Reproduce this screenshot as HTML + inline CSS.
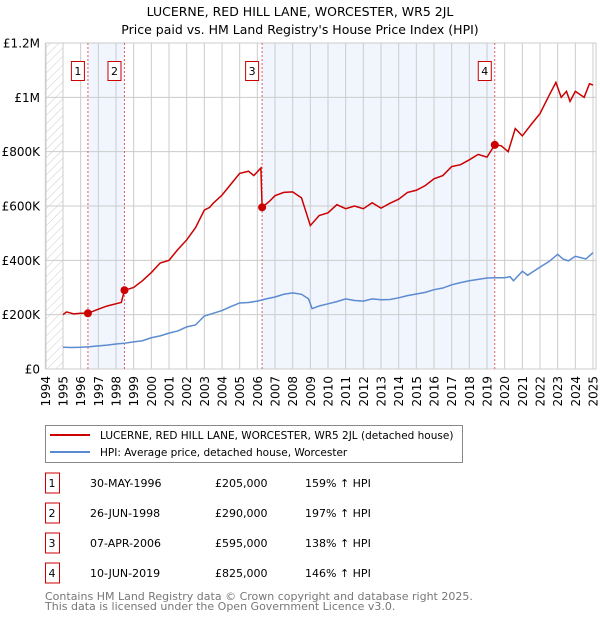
<!DOCTYPE html>
<html><head><meta charset="utf-8"><style>
body{margin:0;background:#fff;width:600px;height:620px;overflow:hidden;font-family:"DejaVu Sans","Liberation Sans",sans-serif}
svg{position:absolute;left:0;top:0}
</style></head><body>
<svg id="chart" width="600" height="620" xmlns="http://www.w3.org/2000/svg" font-family="DejaVu Sans, Liberation Sans, sans-serif">
<defs><pattern id="hatch" width="6" height="6" patternUnits="userSpaceOnUse" patternTransform="rotate(45)"><line x1="0" y1="0" x2="0" y2="6" stroke="#ccc" stroke-width="1"/></pattern></defs>
<text x="300" y="16" text-anchor="middle" font-size="12.5">LUCERNE, RED HILL LANE, WORCESTER, WR5 2JL</text>
<text x="300" y="34" text-anchor="middle" font-size="12.5">Price paid vs. HM Land Registry's House Price Index (HPI)</text>
<g id="plot"></g>
<g>
<rect x="45.5" y="425.5" width="417" height="37" fill="#fff" stroke="#888"/>
<line x1="50" y1="435" x2="90" y2="435" stroke="#cc0000" stroke-width="2"/>
<text x="100" y="439" font-size="10.5">LUCERNE, RED HILL LANE, WORCESTER, WR5 2JL (detached house)</text>
<line x1="50" y1="452" x2="90" y2="452" stroke="#5b8bd0" stroke-width="2"/>
<text x="100" y="456" font-size="10.5">HPI: Average price, detached house, Worcester</text>
</g>
<g id="table" font-size="11"></g>
<text x="45" y="600" font-size="11" fill="#777">Contains HM Land Registry data © Crown copyright and database right 2025.</text>
<text x="45" y="610" font-size="11" fill="#777">This data is licensed under the Open Government Licence v3.0.</text>
</svg>
<script>
const yearTicks=[1994,1995,1996,1997,1998,1999,2000,2001,2002,2003,2004,2005,2006,2007,2008,2009,2010,2011,2012,2013,2014,2015,2016,2017,2018,2019,2020,2021,2022,2023,2024,2025];
const yTickValues=[0,200000,400000,600000,800000,1000000,1200000];
const yTickLabels=["£0","£200K","£400K","£600K","£800K","£1M","£1.2M"];
const hpiYears=[1995,1995.5,1996,1996.5,1997,1997.5,1998,1998.5,1999,1999.5,2000,2000.5,2001,2001.5,2002,2002.5,2003,2003.5,2004,2004.5,2005,2005.5,2006,2006.5,2007,2007.5,2008,2008.5,2008.9,2009.1,2009.5,2010,2010.5,2011,2011.5,2012,2012.5,2013,2013.5,2014,2014.5,2015,2015.5,2016,2016.5,2017,2017.5,2018,2018.5,2019,2019.5,2020,2020.3,2020.5,2021,2021.3,2021.6,2022,2022.5,2023,2023.3,2023.6,2024,2024.3,2024.6,2025];
const hpiValues=[80000,79000,80000,82000,85000,88000,92000,95000,100000,104000,115000,122000,132000,140000,155000,162000,195000,205000,215000,230000,243000,245000,250000,258000,265000,275000,280000,275000,258000,222000,232000,240000,248000,258000,252000,250000,258000,255000,256000,262000,270000,276000,282000,292000,298000,310000,318000,325000,330000,335000,336000,336000,340000,325000,360000,345000,358000,375000,395000,422000,405000,398000,415000,410000,405000,428000];
const redYears=[1995,1995.2,1995.6,1996,1996.41,1997,1997.5,1998.3,1998.48,1999,1999.5,2000,2000.5,2001,2001.5,2002,2002.5,2003,2003.3,2003.5,2004,2004.5,2005,2005.5,2005.8,2006.2,2006.27,2006.7,2007,2007.5,2008,2008.5,2009,2009.5,2010,2010.5,2011,2011.5,2012,2012.5,2013,2013.5,2014,2014.5,2015,2015.5,2016,2016.5,2017,2017.5,2018,2018.5,2019,2019.44,2019.8,2020.2,2020.6,2021,2021.5,2022,2022.5,2022.9,2023.2,2023.5,2023.7,2024,2024.5,2024.8,2025];
const redValues=[200000,210000,203000,205000,205000,220000,232000,245000,290000,300000,325000,355000,390000,400000,440000,475000,520000,585000,595000,610000,640000,680000,720000,728000,712000,740000,595000,618000,638000,650000,652000,630000,528000,565000,575000,605000,590000,600000,590000,612000,592000,610000,625000,650000,658000,675000,700000,712000,745000,752000,770000,790000,780000,825000,822000,800000,885000,858000,900000,940000,1005000,1055000,1000000,1022000,985000,1022000,1000000,1050000,1045000];
const saleYears=[1996.41,1998.48,2006.27,2019.44];
const saleValues=[205000,290000,595000,825000];
const saleLabels=["1","2","3","4"];
const saleDates=["30-MAY-1996","26-JUN-1998","07-APR-2006","10-JUN-2019"];
const salePrices=["£205,000","£290,000","£595,000","£825,000"];
const saleHpi=["159% ↑ HPI","197% ↑ HPI","138% ↑ HPI","146% ↑ HPI"];

const NS="http://www.w3.org/2000/svg";
const L=46,R=596,T=43,B=369;
const x=v=>63+(v-1995)*(593-63)/30;
const y=v=>B-v/1200000*(B-T);
const g=document.getElementById('plot');
function mk(tag,attrs,parent){const e=document.createElementNS(NS,tag);for(const k in attrs)e.setAttribute(k,attrs[k]);(parent||g).appendChild(e);return e;}
for(const [a,b] of [[0,1],[2,3]]){
 const r=mk('rect',{x:x(saleYears[a]),y:T,width:x(saleYears[b])-x(saleYears[a]),height:B-T,fill:'#eef3fd',opacity:0.8});
 
 
}
const h=mk('rect',{x:L,y:T,width:x(1995)-L,height:B-T,fill:'url(#hatch)'});


yearTicks.forEach(yr=>{
 const l=mk('line',{x1:x(yr),x2:x(yr),y1:T,y2:B,stroke:'#ccc'});
 
 
 const t=mk('text',{x:0,y:0,'font-size':12,'text-anchor':'end',transform:`translate(${x(yr)+4.5},${B+7}) rotate(-90)`});
 t.textContent=yr;
 
 
});
yTickValues.forEach((v,i)=>{
 const l=mk('line',{x1:L,x2:R,y1:y(v),y2:y(v),stroke:'#ccc'});
 
 
 const t=mk('text',{x:40,y:y(v)+4.5,'font-size':12,'text-anchor':'end'});
 t.textContent=yTickLabels[i];
 
 
});
const fr=mk('rect',{x:L,y:T,width:R-L,height:B-T,fill:'none',stroke:'#ccc'});


saleYears.forEach((s,i)=>{
 const l=mk('line',{x1:x(s),x2:x(s),y1:T,y2:B,stroke:'#e06060','stroke-dasharray':'2,2'});
 
 
 const bx=mk('rect',{x:x(s)-16.5,y:61.5,width:13,height:19,fill:'#fff',stroke:'#cc0000'});
 
 
 const t=mk('text',{x:x(s)-10,y:75,'font-size':11,'text-anchor':'middle'});
 t.textContent=saleLabels[i];
 
 
});
const hp=mk('polyline',{points:hpiYears.map((t,i)=>x(t)+','+y(hpiValues[i])).join(' '),fill:'none',stroke:'#5b8bd0','stroke-width':1.5});


const rp=mk('polyline',{points:redYears.map((t,i)=>x(t)+','+y(redValues[i])).join(' '),fill:'none',stroke:'#cc0000','stroke-width':1.5});


saleYears.forEach((s,i)=>{
 const c=mk('circle',{cx:x(s),cy:y(saleValues[i]),r:4,fill:'#cc0000'});
 
 
});
const tb=document.getElementById('table');
saleLabels.forEach((lab,i)=>{
 const cy=483+i*30;
 const bx=mk('rect',{x:45.5,y:cy-10,width:14,height:20,fill:'#fff',stroke:'#cc0000'},tb);
 
 
 const vals=[[52,lab,'middle'],[90,saleDates[i],'start'],[215,salePrices[i],'start'],[305,saleHpi[i],'start']];
 vals.forEach(([xx,txt,an])=>{
  const t=mk('text',{x:xx,y:cy+4,'text-anchor':an},tb);
  t.textContent=txt;
  
  
 });
});
</script>
</body></html>
